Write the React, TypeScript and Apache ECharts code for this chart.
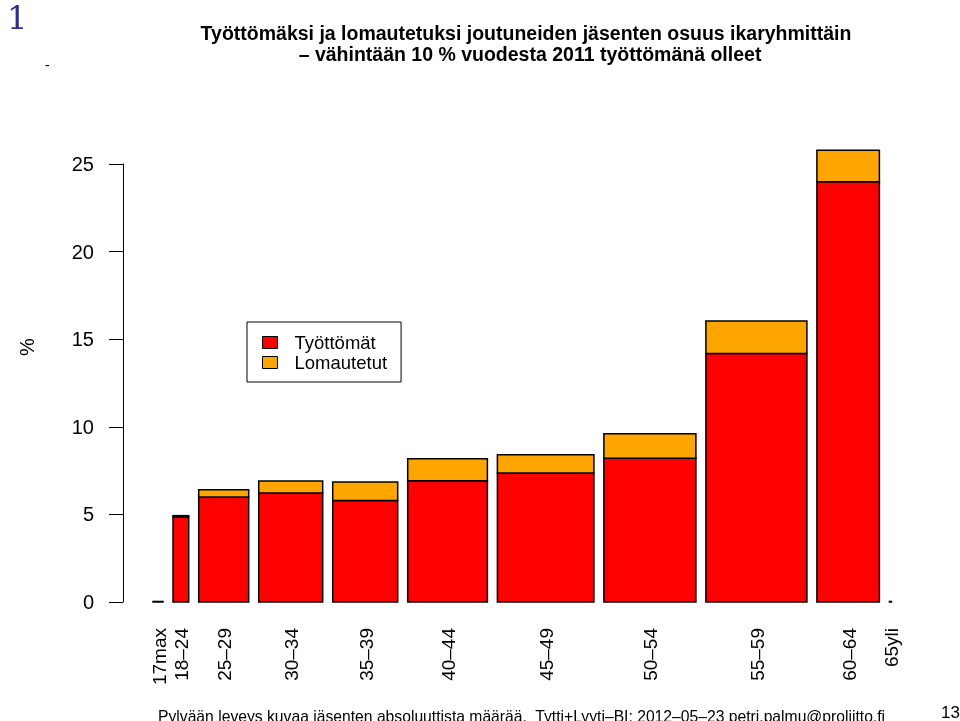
import React, { useEffect, useRef } from "react";
import * as echarts from "echarts";

// Age groups (bar width = relative number of members)
const ageGroups = ["17max", "18–24", "25–29", "30–34", "35–39", "40–44", "45–49", "50–54", "55–59", "60–64", "65yli"];
const memberWidth = [1.0, 1.57, 5.0, 6.4, 6.5, 7.97, 9.65, 9.2, 10.1, 6.25, 0.2];
const unemployed = [0.03, 4.85, 5.99, 6.22, 5.8, 6.92, 7.36, 8.2, 14.19, 23.99, 0.03];
const laidOff = [0, 0.08, 0.42, 0.69, 1.05, 1.26, 1.05, 1.41, 1.85, 1.79, 0];
const yTicks = [0, 5, 10, 15, 20, 25];
const seriesNames = ["Työttömät", "Lomautetut"];
const barSpace = 1.0;

const titleLine1 = "Työttömäksi ja lomautetuksi joutuneiden jäsenten osuus ikaryhmittäin";
const titleLine2 = "– vähintään 10 % vuodesta 2011 työttömänä olleet";
const footer = "Pylvään leveys kuvaa jäsenten absoluuttista määrää.  Tytti+Lyyti–BI: 2012–05–23 petri.palmu@proliitto.fi";

const RED = "#ff0000";
const ORANGE = "#ffa500";
const FONT = "'Liberation Sans', Arial, sans-serif";

export default function App() {
  const ref = useRef<HTMLDivElement>(null);
  useEffect(() => {
    if (!ref.current) return;
    const chart = echarts.init(ref.current, undefined, { renderer: "svg" });

    // cumulative positions of variable-width bars
    let pos = barSpace;
    const data = ageGroups.map((g, i) => {
      const start = pos;
      const end = pos + memberWidth[i];
      pos = end + barSpace;
      return [start, end, unemployed[i], laidOff[i], i];
    });

    chart.setOption({
      animation: false,
      title: [
        {
          text: titleLine1,
          left: 521,
          top: 18,
          textAlign: "center",
          textStyle: { fontFamily: FONT, fontWeight: "bold", fontSize: 19.5, color: "#000" },
        },
        {
          text: titleLine2,
          left: 525,
          top: 39,
          textAlign: "center",
          textStyle: { fontFamily: FONT, fontWeight: "bold", fontSize: 19.5, color: "#000" },
        },
      ],
      legend: {
        orient: "vertical",
        left: 247,
        top: 322,
        borderColor: "#000",
        borderWidth: 1,
        borderRadius: 0,
        padding: [11, 14, 10, 15],
        itemWidth: 15,
        itemHeight: 12,
        itemGap: 1,
        icon: "rect",
        textStyle: { fontFamily: FONT, fontSize: 18.5, color: "#000", padding: [0, 0, 0, 12] },
        data: [
          { name: seriesNames[0], itemStyle: { color: RED, borderColor: "#000", borderWidth: 1 } },
          { name: seriesNames[1], itemStyle: { color: ORANGE, borderColor: "#000", borderWidth: 1 } },
        ],
      },
      grid: { left: 143, right: 57, top: 164, bottom: 119, containLabel: false },
      xAxis: { type: "value", min: 0, max: 76, show: false },
      yAxis: {
        type: "value",
        min: yTicks[0],
        max: yTicks[yTicks.length - 1],
        interval: 5,
        offset: 20,
        axisLine: { show: true, onZero: false, lineStyle: { color: "#000", width: 1 } },
        axisTick: { show: true, inside: false, length: 14, lineStyle: { color: "#000" } },
        axisLabel: { margin: 29, fontFamily: FONT, fontSize: 20, color: "#000" },
        splitLine: { show: false },
      },
      series: [
        {
          type: "custom",
          clip: false,
          encode: { x: [0, 1], y: [2, 3] },
          data,
          renderItem: (params: any, api: any) => {
            const x0 = api.value(0);
            const x1 = api.value(1);
            const r = api.value(2);
            const o = api.value(3);
            const idx = api.value(4);
            const p0 = api.coord([x0, 0]);
            const p1 = api.coord([x1, r]);
            const p2 = api.coord([x1, r + o]);
            const w = p1[0] - p0[0];
            const children: any[] = [
              {
                type: "rect",
                shape: { x: p0[0], y: p1[1], width: w, height: p0[1] - p1[1] },
                style: { fill: RED, stroke: "#000", lineWidth: 1.5 },
              },
            ];
            if (o > 0) {
              children.push({
                type: "rect",
                shape: { x: p0[0], y: p2[1], width: w, height: p1[1] - p2[1] },
                style: { fill: ORANGE, stroke: "#000", lineWidth: 1.5 },
              });
            }
            children.push({
              type: "text",
              x: p0[0] + w / 2 + 1,
              y: p0[1] + 26,
              rotation: Math.PI / 2,
              style: {
                text: ageGroups[idx],
                align: "right",
                verticalAlign: "middle",
                fontFamily: FONT,
                fontSize: 19,
                fill: "#000",
              },
            });
            return { type: "group", children };
          },
        },
        { type: "bar", name: seriesNames[0], data: [], itemStyle: { color: RED } },
        { type: "bar", name: seriesNames[1], data: [], itemStyle: { color: ORANGE } },
      ],
      graphic: [
        {
          type: "text",
          left: 7,
          top: 2,
          style: { text: "1", fontFamily: "'DejaVu Serif', 'Liberation Serif', serif", fontSize: 32, fill: "#2e2e8a" },
        },
        {
          type: "text",
          left: 45,
          top: 58,
          style: { text: "-", fontFamily: FONT, fontSize: 14, fill: "#000" },
        },
        {
          type: "text",
          x: 27,
          y: 347,
          rotation: Math.PI / 2,
          style: { text: "%", fontFamily: FONT, fontSize: 20, fill: "#000", align: "center", verticalAlign: "middle" },
        },
        {
          type: "text",
          left: 158,
          top: 708,
          style: { text: footer, fontFamily: FONT, fontSize: 15.7, fill: "#000" },
        },
        {
          type: "text",
          left: 941,
          top: 704,
          style: { text: "13", fontFamily: FONT, fontSize: 17, fill: "#000" },
        },
      ],
    });
    return () => chart.dispose();
  }, []);
  return (
    <div
      ref={ref}
      style={{ position: "fixed", left: 0, top: 0, width: 960, height: 721 }}
    />
  );
}
